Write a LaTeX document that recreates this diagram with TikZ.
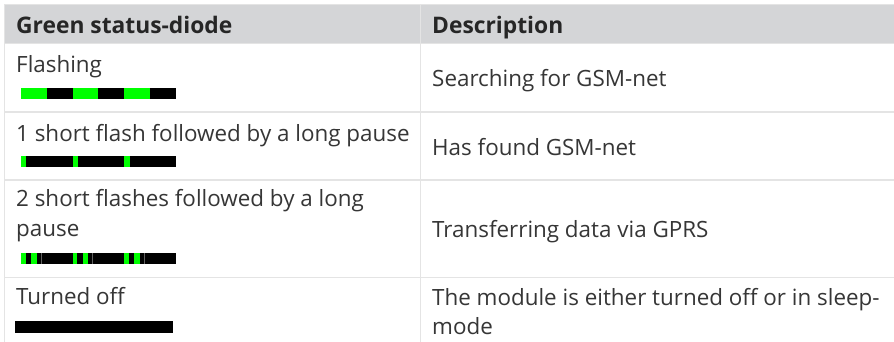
\documentclass[tikz,border=0pt]{standalone}
\usepackage{fontspec}
\setmainfont{Open Sans}
\definecolor{ink}{HTML}{363636}
\definecolor{headgray}{HTML}{D4D5D7}
\definecolor{rule}{HTML}{E4E4E4}
\definecolor{ledgreen}{HTML}{00FF00}
\definecolor{seam}{HTML}{606060}
\begin{document}
\begin{tikzpicture}[x=1pt,y=-1pt,
  cell/.style={anchor=base west,inner sep=0pt,text=ink,font=\fontsize{22.4}{30}\selectfont},
  headcell/.style={cell,font=\fontsize{22.8}{30}\selectfont\bfseries,text=black!85},
  gridline/.style={draw=rule,line width=1.2pt}]
\useasboundingbox (0,0) rectangle (894,342);
\fill[white] (0,0) rectangle (894,342);

% header band
\fill[headgray] (5,5) rectangle (894,43);

% grid lines
\draw[gridline] (4.5,4.5) -- (894,4.5);
\draw[gridline] (4.5,4.5) -- (4.5,342);
\draw[gridline] (420.7,4.5) -- (420.7,342);
\draw[gridline] (4.5,43.5) -- (894,43.5);
\draw[gridline] (4.5,112) -- (894,112);
\draw[gridline] (4.5,180) -- (894,180);
\draw[gridline] (4.5,277.7) -- (894,277.7);

% header texts
\node[headcell] (h1) at (16,34) {Green status-diode};
\node[headcell] (h2) at (432,34) {Description};

% row texts, left column
\node[cell] (s1) at (16,72.5) {Flashing};
\node[cell] (s2) at (16,141.5) {1 short flash followed by a long pause};
\node[cell] (s3a) at (16,206.5) {2 short flashes followed by a long};
\node[cell] (s3b) at (16,236.5) {pause};
\node[cell] (s4) at (16,304) {Turned off};

% row texts, right column
\node[cell] (d1) at (432,87) {Searching for GSM-net};
\node[cell] (d2) at (432,155) {Has found GSM-net};
\node[cell] (d3) at (432,237.5) {Transferring data via GPRS};
\node[cell] (d4a) at (432,305) {The module is either turned off or in sleep-};
\node[cell] (d4b) at (432,334) {mode};

% blink pattern: flashing
\foreach \i in {0,1,2} {
  \fill[ledgreen] ({21+51.667*\i},88.3) rectangle ({46.83+51.667*\i},99);
  \fill[black] ({46.83+51.667*\i},88.3) rectangle ({72.67+51.667*\i},99);
}

% blink pattern: one short flash, long pause
\foreach \i in {0,1,2} {
  \fill[black] ({21+51.667*\i},156) rectangle ({72.67+51.667*\i},167.3);
  \fill[ledgreen] ({21+51.667*\i},156) rectangle ({26.3+51.667*\i},167.3);
}

% blink pattern: two short flashes, long pause
\foreach \i in {0,1,2} {
  \fill[black] ({21+51.667*\i},253.3) rectangle ({72.67+51.667*\i},264);
  \fill[ledgreen] ({21+51.667*\i},253.3) rectangle ({25.7+51.667*\i},264);
  \fill[ledgreen] ({31+51.667*\i},253.3) rectangle ({36.7+51.667*\i},264);
  \draw[seam,line width=0.6pt] ({41+51.667*\i},253.3) -- ({41+51.667*\i},264);
}

% turned off
\fill[black] (15,320.7) rectangle (173.3,332.7);
\end{tikzpicture}
\end{document}
